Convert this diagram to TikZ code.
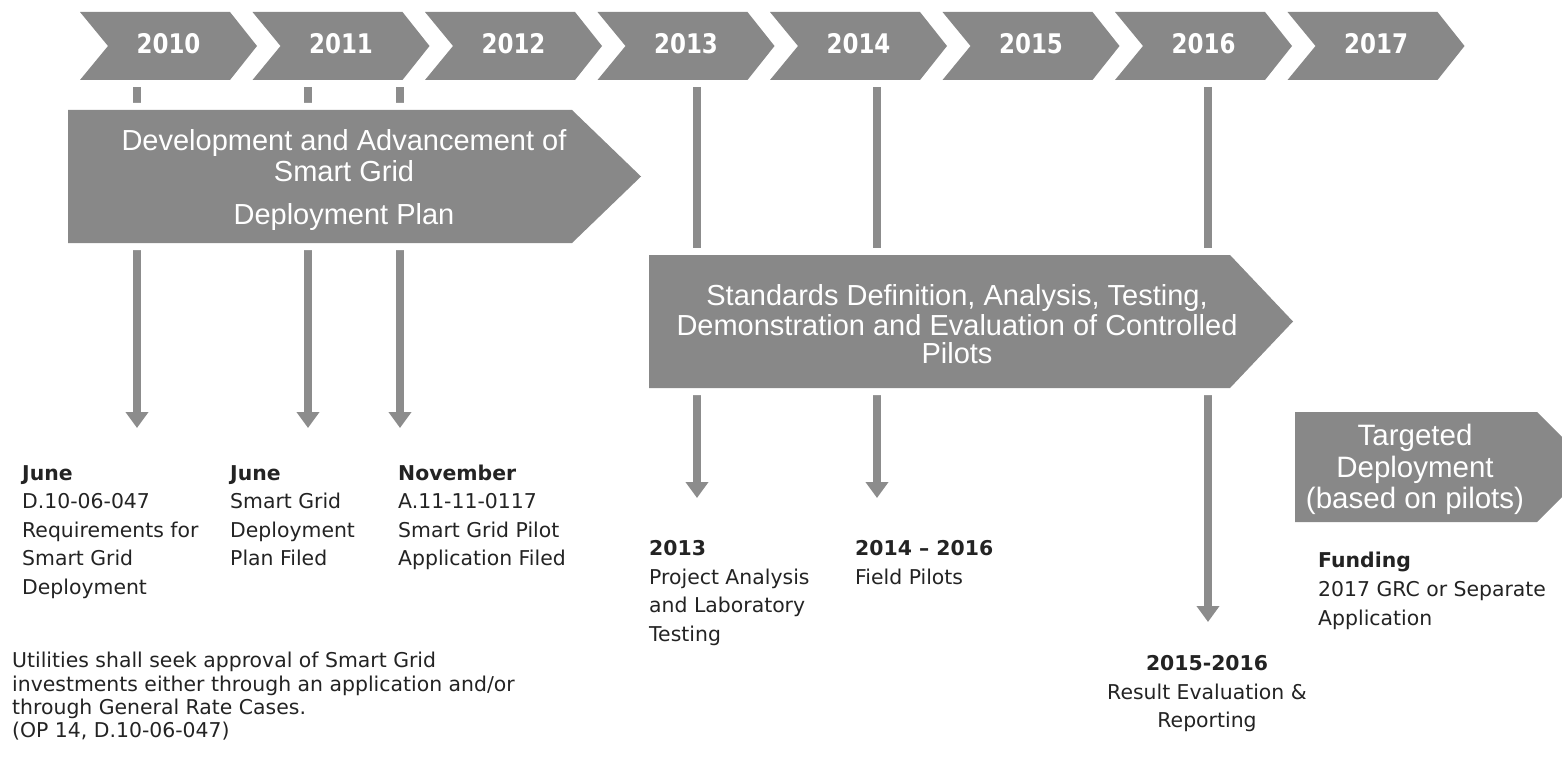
\documentclass[tikz,border=0pt]{standalone}
\usepackage{fontspec}
\setmainfont{DejaVu Sans}
\newfontfamily\yearfont[FakeStretch=0.85]{DejaVu Sans}
\newfontfamily\bannerfont{Liberation Sans}
\usetikzlibrary{arrows.meta}
\definecolor{bannergray}{RGB}{136,136,136}
\definecolor{stemgray}{RGB}{140,140,140}
\definecolor{labelink}{RGB}{35,35,35}

\begin{document}
\begin{tikzpicture}[x=1pt,y=-1pt,
  banner/.style={fill=bannergray, preaction={draw=white, line width=14pt, line join=miter}},
  yearlabel/.style={text=white, inner sep=0pt, font=\yearfont\bfseries\fontsize{27}{30}\selectfont},
  bannertext/.style={text=white, align=center, inner sep=0pt, anchor=north},
  stem/.style={draw=stemgray, line width=8pt, -{Triangle[width=22pt,length=16pt]}},
  note/.style={text=labelink, align=left, inner sep=0pt, anchor=north west,
    font=\fontsize{20.4}{28.5}\selectfont},
]
\useasboundingbox (0,0) rectangle (1562,762);
\clip (0,0) rectangle (1562,762);

% milestone stems: start under the year row, end above the notes
\coordinate (s10) at (137,80);   \coordinate (t10) at (137,428);
\coordinate (s11) at (308,80);   \coordinate (t11) at (308,428);
\coordinate (sNov) at (400,80);  \coordinate (tNov) at (400,428);
\coordinate (s13) at (697,80);   \coordinate (t13) at (697,498);
\coordinate (s14) at (877,80);   \coordinate (t14) at (877,498);
\coordinate (s16) at (1208,80);  \coordinate (t16) at (1208,622);
\draw[stem] (s10) -- (t10);
\draw[stem] (s11) -- (t11);
\draw[stem] (sNov) -- (tNov);
\draw[stem] (s13) -- (t13);
\draw[stem] (s14) -- (t14);
\draw[stem] (s16) -- (t16);

% phase banners
\fill[banner] (68,110) -- (572,110) -- (641,176.5) -- (572,243) -- (68,243) -- cycle;
\node[bannertext, font=\bannerfont\fontsize{29}{30}\selectfont] (plan) at (344,129.4)
  {\strut Development and Advancement of\\Smart Grid\\[13pt]Deployment Plan};

\fill[banner] (649,255) -- (1230,255) -- (1293,321.5) -- (1230,388) -- (649,388) -- cycle;
\node[bannertext, font=\bannerfont\fontsize{29}{27.5}\selectfont] (pilots) at (957,284.2)
  {\strut Standards Definition, Analysis, Testing,\\Demonstration and Evaluation of Controlled\\Pilots};

\fill[banner] (1295,412) -- (1537,412) -- (1592,467) -- (1537,522) -- (1295,522) -- cycle;
\node[bannertext, font=\bannerfont\fontsize{29.5}{31.5}\selectfont] (targeted) at (1415,423.5)
  {\strut Targeted\\Deployment\\(based on pilots)};

% year row
\foreach \yr [count=\i from 0] in {2010,...,2017} {
  \pgfmathsetmacro\L{80+172.5*\i}
  \fill[banner] (\L,12) -- (\L+150,12) -- (\L+177,46) -- (\L+150,80) -- (\L,80) -- (\L+28,46) -- cycle;
  \node[yearlabel] (y\yr) at (\L+88.5,44) {\yr};
}

% notes
\node[note] (n1) at (22,460.05)
  {\strut\textbf{June}\\D.10-06-047\\Requirements for\\Smart Grid\\Deployment};
\node[note] (n2) at (230,460.05)
  {\strut\textbf{June}\\Smart Grid\\Deployment\\Plan Filed};
\node[note] (n3) at (398,460.05)
  {\strut\textbf{November}\\A.11-11-0117\\Smart Grid Pilot\\Application Filed};
\node[note, font=\fontsize{20.4}{23.3}\selectfont] (policy) at (12,651.2)
  {\strut Utilities shall seek approval of Smart Grid\\investments either through an application and/or\\through General Rate Cases.\\(OP 14, D.10-06-047)};
\node[note] (n13) at (649,535.55)
  {\strut\textbf{2013}\\Project Analysis\\and Laboratory\\Testing};
\node[note] (n14) at (855,535.55)
  {\strut\textbf{2014 – 2016}\\Field Pilots};
\node[note, anchor=north, align=center] (n16) at (1207,650.55)
  {\strut\textbf{2015-2016}\\Result Evaluation \&\\Reporting};
\node[note, font=\fontsize{20.4}{29}\selectfont] (fund) at (1318,547.2)
  {\strut\textbf{Funding}\\2017 GRC or Separate\\Application};
\end{tikzpicture}
\end{document}
